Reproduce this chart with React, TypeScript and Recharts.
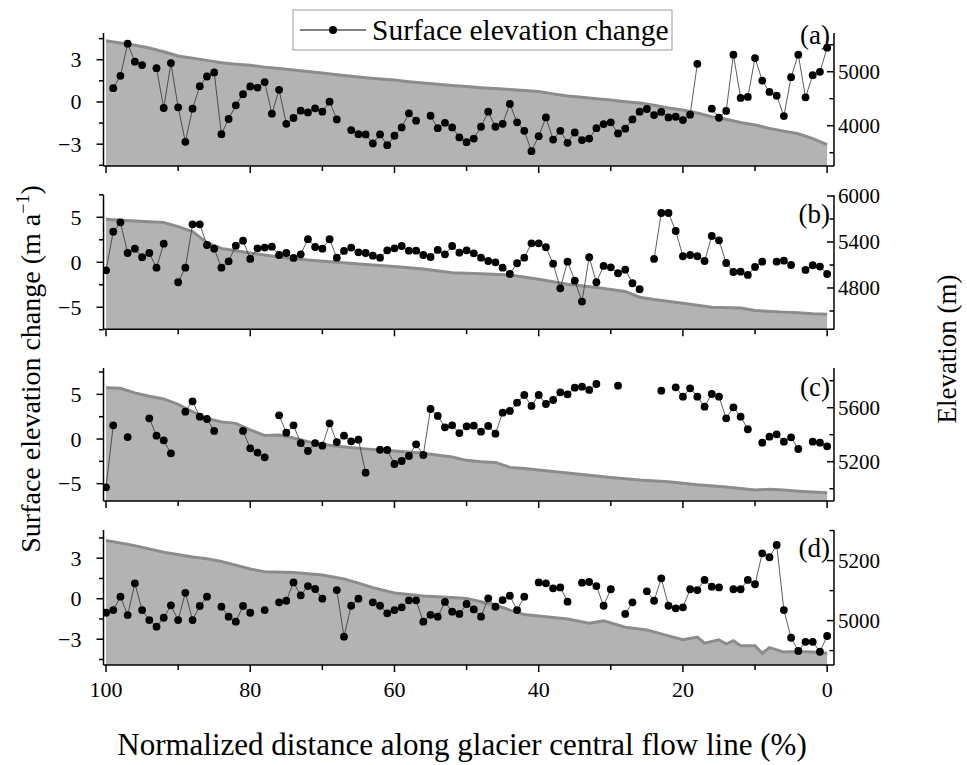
import { ComposedChart, Line, Area, XAxis, YAxis } from 'recharts'

// distance along the flow line (%), shared by all four panels
const DIST = [
  100, 99, 98, 97, 96, 95, 94, 93, 92, 91, 90, 89, 88, 87, 86, 85, 84, 83, 82, 81,
  80, 79, 78, 77, 76, 75, 74, 73, 72, 71, 70, 69, 68, 67, 66, 65, 64, 63, 62, 61,
  60, 59, 58, 57, 56, 55, 54, 53, 52, 51, 50, 49, 48, 47, 46, 45, 44, 43, 42, 41,
  40, 39, 38, 37, 36, 35, 34, 33, 32, 31, 30, 29, 28, 27, 26, 25, 24, 23, 22, 21,
  20, 19, 18, 17, 16, 15, 14, 13, 12, 11, 10, 9, 8, 7, 6, 5, 4, 3, 2, 1, 0,
]

// surface elevation change (m a-1), null = no value
const SEC_A = [
  null, 0.98, 1.86, 4.14, 2.86, 2.62, null, 2.4, -0.43, 2.76, -0.38, -2.83, -0.48, 1.12, 1.81, 2.1, -2.29, -1.21, -0.24, 0.55,
  1.1, 1.02, 1.41, -0.83, 0.86, -1.55, -1.14, -0.62, -0.74, -0.45, -0.69, 0.02, -1.24, null, -2.0, -2.29, -2.31, -2.95, -2.31, -3.07,
  -2.4, -1.81, -0.81, -1.33, null, -0.98, -1.86, -1.48, -1.81, -2.52, -2.86, -2.6, -1.76, -0.69, -1.76, -1.55, -0.14, -1.45, -2.05, -3.5,
  -2.43, -1.1, -2.67, -2.05, -2.9, -2.17, -2.71, -2.6, -1.86, -1.57, -1.45, -2.24, -1.9, -1.24, -0.69, -0.5, -0.93, -0.71, -1.1, -1.05,
  -1.29, -0.9, 2.71, null, -0.48, -1.12, -0.64, 3.36, 0.29, 0.36, 3.12, 1.52, 0.71, 0.45, -1.0, 1.76, 3.36, 0.33, 1.9, 2.14, 3.86,
]
const SEC_B = [
  -0.89, 3.4, 4.44, 1.03, 1.51, 0.56, 1.03, -0.6, 2.07, null, -2.22, -0.6, 4.22, 4.22, 1.92, 1.51, -0.6, 0.11, 1.85, 2.4,
  0.37, 1.55, 1.63, 1.74, 0.81, 1.03, 0.48, 0.89, 2.56, 1.7, 1.51, 2.56, 0.51, 1.26, 1.63, 1.11, 1.03, 0.74, 0.51, 1.33,
  1.55, 1.81, 1.29, 1.29, 0.81, 0.59, 1.37, 0.89, 1.81, 1.07, 1.33, 1.0, 0.51, 0.14, 0.0, -0.6, -1.3, -0.11, 0.51, 2.11,
  2.11, 1.67, -0.15, -2.89, 0.07, -2.04, -4.37, 0.56, -2.22, -0.41, -0.56, -1.22, -0.82, -2.33, -3.0, null, 0.37, 5.48, 5.48, 3.48,
  0.67, 0.81, 0.67, 0.14, 2.92, 2.44, -0.08, -1.08, -1.04, -1.41, -0.52, 0.07, null, 0.07, 0.18, -0.3, null, -0.85, -0.33, -0.48, -1.3,
]
const SEC_C = [
  -5.41, 1.53, null, 0.22, null, null, 2.32, 0.37, -0.15, -1.6, null, 3.06, 4.22, 2.5, 2.24, 0.9, null, null, null, 0.9,
  -1.04, -1.53, -2.05, null, 2.65, 0.71, 1.53, -0.45, -1.34, -0.45, -0.75, 1.76, -0.34, 0.37, -0.26, -0.07, -3.77, null, -1.2, -1.23,
  -2.8, -2.46, -1.9, -0.6, -1.79, 3.36, 2.58, 1.31, 1.53, 0.67, 1.42, 1.49, 0.82, 1.46, 0.6, 2.95, 3.14, 4.07, 4.93, 3.7,
  4.93, 3.92, 4.37, 5.23, 5.0, 5.75, 5.86, 5.49, 6.16, null, null, 5.97, null, null, null, null, null, 5.41, null, 5.79,
  4.74, 5.68, 4.74, 3.62, 5.04, 4.74, 2.32, 3.55, 2.5, 1.09, null, -0.41, 0.26, 0.52, -0.3, 0.19, -1.12, null, -0.3, -0.41, -0.82,
]
const SEC_D = [
  -1.04, -0.84, 0.15, -1.21, 1.14, -0.84, -1.58, -2.07, -1.41, -0.49, -1.58, 0.44, -1.58, -0.54, 0.15, null, -0.59, -1.33, -1.7, -0.54,
  -1.04, null, -0.84, null, -0.27, -0.15, 1.21, 0.25, 0.94, 0.72, 0.0, null, 0.64, -2.81, -0.52, 0.0, null, -0.27, -0.52, -1.08,
  -0.84, -0.64, -0.12, -0.12, -1.7, -1.19, -1.33, -0.24, -0.96, -1.13, -0.39, -0.79, -1.33, 0.03, -0.59, -0.1, 0.22, -0.84, 0.15, null,
  1.21, 1.14, 0.77, 0.84, -0.22, null, 1.19, 1.24, 0.94, -0.52, 0.7, null, -1.13, -0.27, null, 0.55, -0.15, 1.51, -0.52, -0.71,
  -0.64, 0.7, 0.64, 1.39, 0.89, 0.84, null, 0.7, 0.7, 1.39, 1.07, 3.36, 3.07, 3.98, -0.84, -2.89, -3.87, -3.19, -3.19, -3.93, -2.76,
]

// glacier surface elevation (m) along the flow line
const ELEV_A_DIST = [100, 98, 96, 94, 92, 90, 88, 86, 84, 82, 80, 78, 76, 74, 72, 70, 68, 66, 64, 62, 60, 58, 56, 54, 52, 50, 48, 46, 44, 42, 40, 38, 36, 34, 32, 30, 28, 26, 24, 22, 20, 18, 16, 14, 12, 10, 8, 6, 4, 2, 0]
const ELEV_A = [5574, 5530, 5490, 5440, 5370, 5290, 5250, 5210, 5165, 5140, 5120, 5085, 5060, 5030, 5005, 4975, 4945, 4915, 4890, 4865, 4845, 4815, 4790, 4770, 4745, 4725, 4705, 4690, 4670, 4650, 4635, 4590, 4550, 4525, 4500, 4475, 4445, 4420, 4380, 4330, 4290, 4235, 4165, 4120, 4060, 4015, 3950, 3900, 3850, 3760, 3650]
const ELEV_B_DIST = [100, 96, 92, 90, 88, 86, 84, 82, 80, 76, 72, 68, 64, 60, 56, 52, 48, 44, 40, 36, 32, 28, 26, 24, 20, 16, 12, 10, 6, 4, 2, 0]
const ELEV_B = [5696, 5675, 5655, 5600, 5535, 5390, 5315, 5285, 5255, 5205, 5165, 5135, 5105, 5080, 5048, 5000, 4985, 4970, 4915, 4850, 4805, 4755, 4680, 4650, 4600, 4550, 4540, 4505, 4485, 4478, 4465, 4457]
const ELEV_C_DIST = [100, 98, 96, 94, 92, 90, 88, 86, 84, 82, 80, 78, 76, 74, 72, 70, 68, 64, 60, 56, 52, 50, 48, 46, 44, 42, 38, 34, 30, 26, 22, 18, 14, 10, 8, 6, 4, 2, 0]
const ELEV_C = [5748, 5744, 5710, 5685, 5665, 5625, 5570, 5520, 5495, 5484, 5435, 5395, 5398, 5375, 5348, 5330, 5315, 5295, 5279, 5262, 5235, 5210, 5200, 5195, 5158, 5150, 5127, 5105, 5083, 5065, 5052, 5030, 5013, 4990, 4996, 4990, 4982, 4976, 4970]
const ELEV_D_DIST = [100, 96, 92, 88, 86, 84, 82, 80, 78, 74, 70, 67, 65, 63, 60, 56, 52, 50, 48, 46, 44, 42, 38, 36, 33, 31, 28, 25, 22, 20, 18, 17, 15, 14, 13, 12, 10, 9, 8, 6, 4, 2, 0]
const ELEV_D = [5267, 5250, 5228, 5212, 5206, 5197, 5185, 5172, 5163, 5160, 5152, 5139, 5125, 5110, 5092, 5082, 5077, 5074, 5063, 5052, 5035, 5020, 5010, 5005, 4991, 4999, 4978, 4969, 4949, 4936, 4945, 4925, 4936, 4922, 4933, 4916, 4916, 4891, 4910, 4895, 4897, 4895, 4891]

// tick values
const X_MAJOR = [100, 80, 60, 40, 20, 0]
const X_MINOR = [90, 70, 50, 30, 10]
const L_MAJOR_A = [-3, 0, 3]
const L_MINOR_A = [-4.5, -1.5, 1.5, 4.5]
const R_MAJOR_A = [4000, 5000]
const R_MINOR_A = [3500, 4500, 5500]
const L_MAJOR_B = [-5, 0, 5]
const L_MINOR_B = [-7.5, -2.5, 2.5, 7.5]
const R_MAJOR_B = [4800, 5400, 6000]
const R_MINOR_B = [4500, 5100, 5700]
const L_MAJOR_C = [-5, 0, 5]
const L_MINOR_C = [-2.5, 2.5, 7.5]
const R_MAJOR_C = [5200, 5600]
const R_MINOR_C = [5000, 5400, 5800]
const L_MAJOR_D = [-3, 0, 3]
const L_MINOR_D = [-4.5, -1.5, 1.5, 4.5]
const R_MAJOR_D = [5000, 5200]
const R_MINOR_D = [4900, 5100, 5300]

const FONT = "'Liberation Serif', 'Times New Roman', Times, serif"
const W = 967
const PL = 103.5 // plot left (page px)
const PR = 834 // plot right
const MT = 20
const XH = 45

const fmt = (v: number) => (v < 0 ? '\u2212' + Math.abs(v) : String(v))

interface PanelProps {
  top: number
  bottom: number
  sec: (number | null)[]
  elevDist: number[]
  elev: number[]
  lDomain: [number, number]
  lMajor: number[]
  lMinor: number[]
  rDomain: [number, number]
  rMajor: number[]
  rMinor: number[]
  showX: boolean
}

function Panel(p: PanelProps) {
  const plotH = p.bottom - p.top
  const pb = MT + plotH
  const pts = DIST.map((d, i) => ({ d, v: p.sec[i] }))
  const area = p.elevDist.map((d, i) => ({ d, e: p.elev[i] }))

  const xTick = (t: any) => {
    const major = X_MAJOR.includes(t.payload.value)
    return (
      <g>
        <line x1={t.x} x2={t.x} y1={pb} y2={pb + (major ? 7 : 5)} stroke="#000" strokeWidth={1.5} />
        {p.showX && major && (
          <text x={t.x} y={pb + 24} textAnchor="middle" dominantBaseline="central" fontSize={22} fontFamily={FONT} fill="#000">
            {t.payload.value}
          </text>
        )}
      </g>
    )
  }
  const lTick = (t: any) => {
    const major = p.lMajor.includes(t.payload.value)
    return (
      <g>
        <line x1={PL - (major ? 7 : 4.5)} x2={PL} y1={t.y} y2={t.y} stroke="#000" strokeWidth={1.5} />
        {major && (
          <text x={PL - 22} y={t.y} textAnchor="end" dominantBaseline="central" fontSize={22} fontFamily={FONT} fill="#000">
            {fmt(t.payload.value)}
          </text>
        )}
      </g>
    )
  }
  const rTick = (t: any) => {
    const major = p.rMajor.includes(t.payload.value)
    return (
      <g>
        <line x1={PR - (major ? 7 : 4.5)} x2={PR} y1={t.y} y2={t.y} stroke="#000" strokeWidth={1.5} />
        {major && (
          <text x={PR + 4} y={t.y} textAnchor="start" dominantBaseline="central" fontSize={21} fontFamily={FONT} fill="#000">
            {t.payload.value}
          </text>
        )}
      </g>
    )
  }

  return (
    <div style={{ position: 'absolute', left: 0, top: p.top - MT }}>
      <ComposedChart width={W} height={MT + plotH + XH} margin={{ top: MT, right: 0, bottom: 0, left: 0 }}>
        <XAxis
          dataKey="d"
          type="number"
          domain={[-0.95, 100.35]}
          reversed
          allowDataOverflow
          ticks={[...X_MAJOR, ...X_MINOR]}
          interval={0}
          tick={xTick}
          tickLine={false}
          axisLine={{ stroke: '#000', strokeWidth: 1.5 }}
          height={XH}
        />
        <YAxis
          yAxisId="left"
          orientation="left"
          type="number"
          domain={p.lDomain}
          allowDataOverflow
          ticks={[...p.lMajor, ...p.lMinor]}
          interval={0}
          tick={lTick}
          tickLine={false}
          axisLine={{ stroke: '#000', strokeWidth: 1.5 }}
          width={PL}
        />
        <YAxis
          yAxisId="right"
          orientation="right"
          type="number"
          domain={p.rDomain}
          allowDataOverflow
          ticks={[...p.rMajor, ...p.rMinor]}
          interval={0}
          tick={rTick}
          tickLine={false}
          axisLine={{ stroke: '#000', strokeWidth: 1.5 }}
          width={W - PR}
        />
        <Area
          data={area}
          dataKey="e"
          yAxisId="right"
          type="linear"
          fill="#b3b3b3"
          fillOpacity={1}
          stroke="#8c8c8c"
          strokeWidth={3}
          isAnimationActive={false}
          activeDot={false}
        />
        <Line
          data={pts}
          dataKey="v"
          yAxisId="left"
          type="linear"
          stroke="#333"
          strokeWidth={0.8}
          connectNulls={false}
          dot={{ r: 3.9, fill: '#000', stroke: '#000', strokeWidth: 0 }}
          activeDot={false}
          isAnimationActive={false}
        />
      </ComposedChart>
    </div>
  )
}

export default function App() {
  return (
    <div style={{ position: 'absolute', left: 0, top: 0, width: W, height: 765, background: '#fff', fontFamily: FONT }}>
      <Panel top={33} bottom={166} sec={SEC_A} elevDist={ELEV_A_DIST} elev={ELEV_A}
        lDomain={[-4.55, 4.9]} lMajor={L_MAJOR_A} lMinor={L_MINOR_A}
        rDomain={[3254, 5717]} rMajor={R_MAJOR_A} rMinor={R_MINOR_A} showX={false} />
      <Panel top={195} bottom={329.3} sec={SEC_B} elevDist={ELEV_B_DIST} elev={ELEV_B}
        lDomain={[-7.45, 7.48]} lMajor={L_MAJOR_B} lMinor={L_MINOR_B}
        rDomain={[4261, 6013]} rMajor={R_MAJOR_B} rMinor={R_MINOR_B} showX={false} />
      <Panel top={368} bottom={501} sec={SEC_C} elevDist={ELEV_C_DIST} elev={ELEV_C}
        lDomain={[-6.94, 7.95]} lMajor={L_MAJOR_C} lMinor={L_MINOR_C}
        rDomain={[4909, 5894]} rMajor={R_MAJOR_C} rMinor={R_MINOR_C} showX={false} />
      <Panel top={530} bottom={665} sec={SEC_D} elevDist={ELEV_D_DIST} elev={ELEV_D}
        lDomain={[-4.91, 5.09]} lMajor={L_MAJOR_D} lMinor={L_MINOR_D}
        rDomain={[4852, 5302]} rMajor={R_MAJOR_D} rMinor={R_MINOR_D} showX={true} />
      <svg width={W} height={765} style={{ position: 'absolute', left: 0, top: 0, pointerEvents: 'none' }} fontFamily={FONT}>
        <rect x={293} y={10} width={379} height={40} fill="#fff" stroke="#999" strokeWidth={1} />
        <line x1={300} x2={366} y1={30} y2={30} stroke="#000" strokeWidth={1} />
        <circle cx={333} cy={30} r={4} fill="#000" />
        <text x={372} y={40} fontSize={29.5} fill="#000">Surface elevation change</text>
        <text x={830} y={44} textAnchor="end" fontSize={27} fill="#000">(a)</text>
        <text x={830} y={223} textAnchor="end" fontSize={27} fill="#000">(b)</text>
        <text x={830} y={396} textAnchor="end" fontSize={27} fill="#000">(c)</text>
        <text x={830} y={557} textAnchor="end" fontSize={27} fill="#000">(d)</text>
        <text transform="translate(40,369) rotate(-90)" textAnchor="middle" fontSize={28} fill="#000">
          Surface elevation change (m a<tspan dy={-11} fontSize={18}>{'\u22121'}</tspan><tspan dy={11}>)</tspan>
        </text>
        <text transform="translate(956,349) rotate(-90)" textAnchor="middle" fontSize={27} fill="#000">Elevation (m)</text>
        <text x={462} y={755} textAnchor="middle" fontSize={31} fill="#000">Normalized distance along glacier central flow line (%)</text>
      </svg>
    </div>
  )
}
